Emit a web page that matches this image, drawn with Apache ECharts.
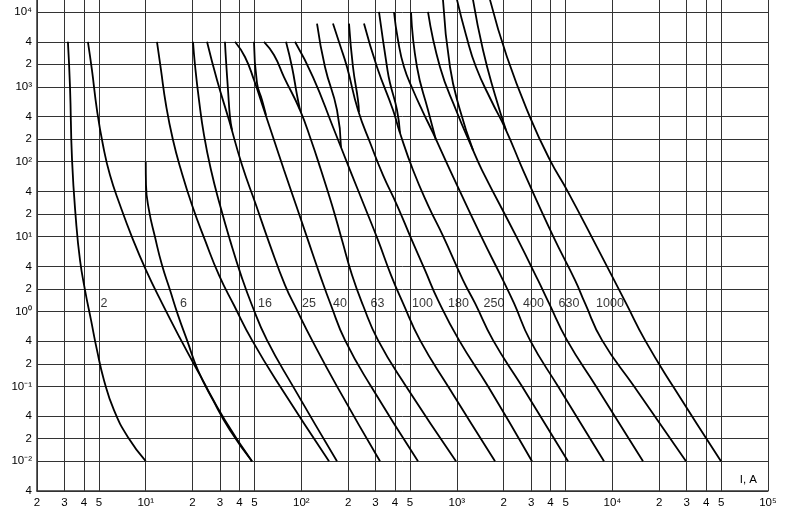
<!DOCTYPE html>
<html><head><meta charset="utf-8">
<script src="https://cdn.jsdelivr.net/npm/echarts@6/dist/echarts.min.js"></script>
<style>html,body{margin:0;padding:0;background:#fff}#c{width:800px;height:515px}</style>
</head><body><div id="c"></div>
<script>
// Tick values (log axes)
const xTicks = [2,3,4,5,10,20,30,40,50,100,200,300,400,500,1000,2000,3000,4000,5000,10000,20000,30000,40000,50000,100000];
const yTicks = [0.004,0.01,0.02,0.04,0.1,0.2,0.4,1,2,4,10,20,40,100,200,400,1000,2000,4000,10000];

// Curves: [current I (A), time t (s)]
const curveA = [[3.16,4000],[3.26,995],[3.36,105],[3.56,16.6],[3.78,4.85],[4.07,1.93],[4.45,0.766],[4.86,0.304],[5.39,0.121],[6.25,0.048],[7.69,0.0209],[10,0.01]];
const curveB = [[4.25,4000],[4.51,1679],[4.86,490],[5.31,167],[5.89,66.3],[6.83,26.4],[8.16,9.85],[10.04,3.56],[12.72,1.29],[16.6,0.44],[22.33,0.141],[32.3,0.0353],[48.2,0.01]];
const curveC = [[10,98.9],[10.04,48.8],[10.49,22.6],[11.47,9.85],[12.72,4.16],[14.32,1.93],[16.12,0.893],[18.42,0.414],[21.67,0.164],[27.07,0.0653],[34.81,0.0259],[48.2,0.01]];
const curveD = [[11.81,4000],[12.53,1679],[13.5,572],[14.97,195],[16.85,77.4],[19.83,26.4],[24.04,8.97],[29.57,3.06],[36.93,1.21],[48.2,0.414],[72.96,0.1],[150.7,0.01]];
const curveE = [[20.13,4000],[20.73,1957],[22.0,667],[23.69,227],[26.28,77.4],[30.0,26.4],[34.81,8.97],[40.96,3.06],[48.2,1.21],[60.19,0.414],[88.44,0.1],[169.6,0.01]];
const curveF = [[24.77,4000],[28.72,1234],[34.29,360],[41.57,90.2],[51.15,26.4],[62.91,7.7],[78.56,2.25],[93.83,1.04],[117.2,0.414],[169.6,0.1],[320.6,0.01]];
const curveG = [[32.3,4000],[32.8,2284],[33.8,907],[34.81,395],[35.85,265]];
const curveH = [[37.48,4000],[43.46,2503],[49.65,1234],[57.58,490],[66.75,195],[77.41,77.4],[92.45,26.4],[110.4,8.97],[131.9,3.06],[155.2,1.21],[190.9,0.414],[280.5,0.1],[562.5,0.01]];
const curveI = [[49.65,4000],[51.9,1124],[55.9,667],[59.3,420]];
const curveJ = [[57.58,4000],[66.75,2663],[77.41,1353],[98.1,490],[115.5,195],[133.8,77.4],[157.5,26.4],[182.6,8.97],[211.8,3.06],[249.2,1.21],[311.2,0.414],[471,0.1],[987.2,0.01]];
const curveK = [[79.72,4000],[87.13,1841],[93.83,778],[98.1,490]];
const curveL = [[91.08,4000],[118.9,1353],[159.8,291],[205.6,77.4],[252.9,26.4],[311.2,8.97],[377.2,3.06],[450.5,1.29],[579.4,0.414],[876.9,0.1],[1759,0.01]];
const curveM = [[126.2,7000],[142,1841],[169.6,490],[179.9,157]];
const curveN = [[159.8,7000],[177.3,3620],[196.7,1841],[231.4,490],[280.5,167],[335.1,66.3],[412,26.4],[507,9.55],[623.8,3.56],[756.3,1.42],[1032,0.414],[1585,0.1],[3040,0.01]];
const curveO = [[202.6,7000],[214.9,1841],[231.4,667],[234.9,461]];
const curveP = [[252.9,7000],[306.5,1841],[388.6,490],[430.9,242],[522.4,77.4],[652,26.4],[814.3,10.2],[1095,2.62],[1308,1.29],[1707,0.414],[2622,0.1],[5181,0.01]];
const curveQ = [[315.8,10000],[355.6,1841],[371.7,1124],[412.2,490],[430.9,242]];
const curveR = [[394.3,10000],[418.3,4224],[457.3,1841],[522.4,907],[605.6,461],[702.4,242],[903.3,77.4],[1429,10.2],[1979,2.62],[2329,1.29],[2951,0.414],[4467,0.1],[8825,0.01]];
const curveS = [[507.2,10000],[554.2,1841],[652.3,490],[734.3,195]];
const curveT = [[652.3,10000],[778.9,1841],[987.2,490],[1270,143],[1450,77.4],[2399,10.2],[3323,2.62],[3909,1.29],[5105,0.414],[7840,0.1],[15720,0.01]];
const curveU = [[814.3,14500],[903.3,1841],[1047,490],[1270,143]];
const curveV = [[1002,14500],[1145,4930],[1327,1841],[1657,667],[2069,265],[2662,77.4],[4148,10.2],[5747,2.62],[6662,1.29],[8568,0.414],[13760,0.1],[29710,0.01]];
const curveW = [[1270,14500],[1472,3100],[1759,778],[2069,265]];
const curveX = [[1633,14500],[2100,2503],[2951,395],[3968,105],[5105,41.8],[7957,7.24],[12220,1.29],[16190,0.414],[24510,0.1],[49870,0.01]];

// Rating labels
const ratingLabels = ['2','6','16','25','40','63','100','180','250','400','630','1000'];
const labelCurrents = [5.39,17.5,58.4,112,177,309,601,1025,1733,3109,5258,9647];
const labelTime = 1.29;

const curves = [curveA,curveB,curveC,curveD,curveE,curveF,curveG,curveH,curveI,curveJ,curveK,curveL,curveM,curveN,curveO,curveP,curveQ,curveR,curveS,curveT,curveU,curveV,curveW,curveX];

const FONT = '"Liberation Sans","Arial",sans-serif';
const SUP = {'0':'\u2070','1':'\u00B9','2':'\u00B2','3':'\u00B3','4':'\u2074','5':'\u2075','-':'\u207B'};
function tickText(v){
  const e = Math.floor(Math.log10(v) + 1e-9);
  const m = Math.round(v / Math.pow(10, e));
  if (m === 1) return '10' + String(e).split('').map(c => SUP[c]).join('');
  return String(m);
}

const GRID = {color:'#333', width:1};
const series = curves.map(d => ({
  type:'line', data:d, showSymbol:false, smooth:0.5, silent:true,
  lineStyle:{color:'#000', width:1.8}, z:3
}));
series.push({
  type:'scatter', silent:true, z:5,
  data: ratingLabels.map((s,i) => [labelCurrents[i], labelTime, s]),
  symbolSize:1, itemStyle:{color:'rgba(0,0,0,0)'},
  label:{show:true, position:'inside', formatter:p => p.data[2], color:'#000', fontSize:12.5, fontFamily:FONT}
});

const chart = echarts.init(document.getElementById('c'), null, {renderer:'canvas'});
chart.setOption({
  animation:false,
  backgroundColor:'#fff',
  grid:{left:37, right:32, top:0, bottom:24, containLabel:false},
  xAxis:{
    type:'log', logBase:10, min:2, max:100000,
    name:'I, A', nameLocation:'end', nameGap:-11,
    nameTextStyle:{align:'right', verticalAlign:'bottom', padding:[0,0,5,0], fontFamily:FONT, fontSize:11.5, color:'#000'},
    axisLine:{show:true, lineStyle:{color:'#333', width:1.5}},
    axisTick:{show:false, customValues:xTicks},
    axisLabel:{customValues:xTicks, formatter:tickText, margin:6, fontFamily:FONT, fontSize:11.5, color:'#000', hideOverlap:false, showMinLabel:true, showMaxLabel:true},
    splitLine:{show:true, lineStyle:GRID},
    minorSplitLine:{show:false}
  },
  yAxis:{
    type:'log', logBase:10, min:0.004, max:14450,
    axisLine:{show:true, lineStyle:{color:'#333', width:1.5}},
    axisTick:{show:false, customValues:yTicks},
    axisLabel:{customValues:yTicks, formatter:tickText, margin:5, fontFamily:FONT, fontSize:11.5, color:'#000', hideOverlap:false, showMinLabel:true, showMaxLabel:true},
    splitLine:{show:true, lineStyle:GRID},
    minorSplitLine:{show:false}
  },
  series:series
});
</script>
</body></html>
